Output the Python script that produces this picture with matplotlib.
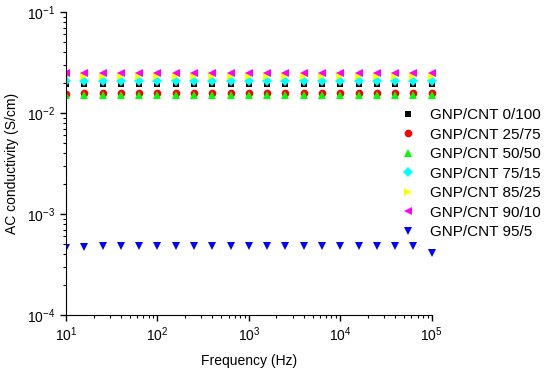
import numpy as np
import matplotlib as mpl
mpl.use('Agg')
import matplotlib.pyplot as plt
from matplotlib.ticker import LogLocator, NullFormatter
from matplotlib.patches import Rectangle

plt.rcParams['font.family'] = ['Liberation Sans', 'DejaVu Sans']
plt.rcParams['mathtext.fontset'] = 'custom'
plt.rcParams['mathtext.rm'] = 'Liberation Sans'
plt.rcParams['mathtext.it'] = 'Liberation Sans:italic'

# frequencies, 5 points per decade
freq = [10, 15.8, 25.1, 39.8, 63.1, 100, 158, 251, 398, 631, 1000,
        1585, 2512, 3981, 6310, 10000, 15849, 25119, 39811, 63096, 100000]

labels = ["GNP/CNT 0/100", "GNP/CNT 25/75", "GNP/CNT 50/50", "GNP/CNT 75/15",
          "GNP/CNT 85/25", "GNP/CNT 90/10", "GNP/CNT 95/5"]

s_0_100 = [0.0194, 0.0194, 0.0194, 0.0194, 0.0194, 0.0194, 0.0194, 0.0194, 0.0194, 0.0194, 0.0194,
           0.0194, 0.0194, 0.0194, 0.0194, 0.0194, 0.0194, 0.0194, 0.0194, 0.0194, 0.0194]
s_25_75 = [0.0155, 0.0157, 0.0157, 0.0157, 0.0157, 0.0157, 0.0157, 0.0157, 0.0157, 0.0157, 0.0157,
           0.0157, 0.0157, 0.0157, 0.0157, 0.0157, 0.0157, 0.0157, 0.0157, 0.0157, 0.0157]
s_50_50 = [0.0150, 0.0151, 0.0151, 0.0151, 0.0151, 0.0151, 0.0151, 0.0151, 0.0151, 0.0151, 0.0151,
           0.0151, 0.0151, 0.0151, 0.0151, 0.0151, 0.0151, 0.0151, 0.0151, 0.0151, 0.0151]
s_75_15 = [0.0207, 0.0209, 0.0209, 0.0209, 0.0209, 0.0209, 0.0209, 0.0209, 0.0209, 0.0209, 0.0209,
           0.0209, 0.0209, 0.0209, 0.0209, 0.0209, 0.0209, 0.0209, 0.0209, 0.0209, 0.0209]
s_85_25 = [0.0230, 0.0232, 0.0232, 0.0232, 0.0232, 0.0232, 0.0232, 0.0232, 0.0232, 0.0232, 0.0232,
           0.0232, 0.0232, 0.0232, 0.0232, 0.0232, 0.0232, 0.0232, 0.0232, 0.0232, 0.0232]
s_90_10 = [0.0247, 0.0249, 0.0249, 0.0249, 0.0249, 0.0249, 0.0249, 0.0249, 0.0249, 0.0249, 0.0249,
           0.0249, 0.0249, 0.0249, 0.0249, 0.0249, 0.0249, 0.0249, 0.0249, 0.0249, 0.0249]
s_95_5 = [0.00046, 0.00047, 0.00048, 0.00048, 0.00048, 0.00048, 0.00048, 0.00048, 0.00048, 0.00048, 0.00048,
          0.00048, 0.00048, 0.00048, 0.00048, 0.00048, 0.00048, 0.00048, 0.00048, 0.00048, 0.00041]

series = [s_0_100, s_25_75, s_50_50, s_75_15, s_85_25, s_90_10, s_95_5]
markers = ['s', 'o', '^', 'D', '>', '<', 'v']
colors = ['black', 'red', '#00ff00', '#00ffff', '#ffff00', '#ff00ff', '#0000ff']
sizes = [5, 5.5, 6, 5, 6, 6, 6]

fig = plt.figure(figsize=(5.5, 3.72), dpi=100)
ax = fig.add_axes([0.12, 0.153, 0.665, 0.815])
ax.set_xscale('log')
ax.set_yscale('log')

clip = Rectangle((0, 0), 1.03, 1, transform=ax.transAxes, visible=False)
ax.add_patch(clip)
for s, lab, m, c, ms in zip(series, labels, markers, colors, sizes):
    ln, = ax.plot(freq, s, linestyle='none', marker=m, color=c,
                  markersize=ms, markeredgewidth=0, label=lab)
    ln.set_clip_path(clip)

ax.set_xlim(10, 1e5)
ax.set_ylim(1e-4, 1e-1)
for a in (ax.xaxis, ax.yaxis):
    a.set_major_locator(LogLocator(base=10, numticks=10))
    a.set_minor_locator(LogLocator(base=10, subs=np.arange(2, 10), numticks=20))
    a.set_minor_formatter(NullFormatter())

for sp in ('top', 'right'):
    ax.spines[sp].set_visible(False)
ax.tick_params(which='major', direction='out', length=4, width=1, labelsize=10, colors='black')
ax.tick_params(which='minor', direction='out', length=2.5, width=0.8)

ax.set_xlabel('Frequency (Hz)', fontsize=10, labelpad=7)
ax.set_ylabel('AC conductivity (S/cm)', fontsize=10, labelpad=6)

ax.legend(loc='upper left', bbox_to_anchor=(0.725, 0.709), bbox_transform=fig.transFigure,
          frameon=False, fontsize=11, handletextpad=0.85, labelspacing=0.36,
          handlelength=1.2, borderaxespad=0, borderpad=0)

fig.savefig('out.png', dpi=100)
